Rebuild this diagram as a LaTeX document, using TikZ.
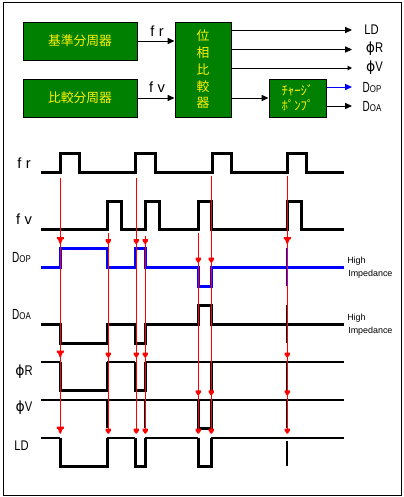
\documentclass[tikz,border=0pt]{standalone}
\usepackage{fontspec}
\setmainfont{Liberation Sans}
\newfontfamily\jpfont{Noto Sans CJK JP}
\newfontfamily\phifont{DejaVu Sans}
\newfontfamily\spacedfont[LetterSpace=30]{Liberation Sans}
\newfontfamily\narrowfont[FakeStretch=0.8]{Liberation Sans}
\newfontfamily\vnarrowfont[FakeStretch=0.68]{Liberation Sans}
\usetikzlibrary{arrows.meta}
\newcommand{\redtipbig}[2]{\fill[tipred] (#1-3.5,#2-7) -- (#1+3.5,#2-7) -- (#1+3.5,#2-5) -- (#1+2.2,#2-4.5) -- (#1+0.5,#2) -- (#1-0.5,#2) -- (#1-2.2,#2-4.5) -- (#1-3.5,#2-5) -- cycle;}
\newcommand{\redtipsmall}[2]{\fill[tipred] (#1-2.6,#2-5) -- (#1+2.6,#2-5) -- (#1+2.6,#2-3) -- (#1+0.5,#2) -- (#1-0.5,#2) -- (#1-2.6,#2-3) -- cycle;}
\definecolor{blockgreen}{RGB}{0,128,0}
\definecolor{sigblue}{RGB}{0,0,255}
\tikzset{
  block/.style={draw=black,line width=0.75pt,fill=blockgreen,anchor=north west,inner sep=0pt,text=yellow,align=center,font=\jpfont\fontsize{9.6pt}{12pt}\selectfont},
  conn/.style={line width=0.75pt,draw=black,-{Triangle[length=5.2pt,width=4.6pt]}},
  connsmall/.style={line width=0.75pt,draw=black,-{Triangle[length=3.2pt,width=3.2pt]}},
  sig/.style={line width=2.25pt,draw=black,line cap=butt,line join=miter},
  sigthin/.style={line width=1.6pt,draw=black,line cap=butt,line join=miter},
  bluesig/.style={sig,draw=sigblue},
  redline/.style={line width=0.75pt,draw=red},
  label/.style={inner sep=0pt,anchor=center,text=black},
  small/.style={inner sep=0pt,anchor=west,text=black,font=\fontsize{6.7pt}{7pt}\selectfont},
  tipred/.style={fill=red,draw=none}
}
\newcommand{\dsub}[1]{{\vnarrowfont\fontsize{11pt}{11pt}\selectfont D}{\narrowfont\fontsize{7.4pt}{8pt}\selectfont #1}}
\newcommand{\phisig}[1]{{\phifont\fontsize{10.5pt}{11pt}\selectfont ϕ}{\narrowfont\fontsize{10.5pt}{11pt}\selectfont #1}}
\begin{document}
\begin{tikzpicture}[x=0.75pt,y=-0.75pt]
\useasboundingbox (0,0) rectangle (404,497);
\fill[white] (0,0) rectangle (404,497);
\draw[line width=0.75pt] (3.5,2.5) rectangle (401.5,495);
% blocks
\node[block,minimum width=85.5pt,minimum height=28.5pt] (base) at (22.5,21.5) {基準分周器};
\node[block,minimum width=85.5pt,minimum height=28.5pt] (cmp) at (22.5,78.5) {比較分周器};
\node[block,minimum width=42pt,minimum height=71.25pt,font=\jpfont\fontsize{9.6pt}{12.6pt}\selectfont] (det) at (174.5,21.5) {位\\相\\比\\較\\器};
\node[block,minimum width=42.75pt,minimum height=28.5pt,font=\jpfont\fontsize{9.6pt}{11.25pt}\selectfont] (pump) at (268.5,78.5) {ﾁｬｰｼﾞ\\ﾎﾟﾝﾌﾟ};
% output ends
\coordinate (ldend) at (352,30);
\coordinate (prend) at (352,49.5);
\coordinate (pvend) at (352,68);
\coordinate (dopend) at (352,87);
\coordinate (doaend) at (352,106);
\draw[conn] (base.east) -- (base.east -| det.west);
\draw[conn] (cmp.east) -- (cmp.east -| det.west);
\draw[conn] (det.east |- pump.west) -- (pump.west);
\draw[conn] (det.east |- ldend) -- (ldend);
\draw[conn] (det.east |- prend) -- (prend);
\draw[connsmall] (det.east |- pvend) -- (pvend);
\draw[conn,draw=sigblue] (pump.east |- dopend) -- (dopend);
\draw[conn] (pump.east |- doaend) -- (doaend);
% block labels
\node[label,font=\spacedfont\fontsize{11pt}{11pt}\selectfont] (lfr) at (157,31) {fr};
\node[label,font=\spacedfont\fontsize{11pt}{11pt}\selectfont] (lfv) at (157,87) {fv};
\node[label,font=\narrowfont\fontsize{10.5pt}{11pt}\selectfont] (lld) at (371.5,30) {LD};
\node[label] (lpr) at (374.5,49) {\phisig{R}};
\node[label] (lpv) at (374.5,68) {\phisig{V}};
\node[label] (ldop) at (372,87) {\dsub{OP}};
\node[label] (ldoa) at (372,106) {\dsub{OA}};
% waveform labels
\node[label,font=\spacedfont\fontsize{11pt}{11pt}\selectfont] (wfr) at (24,163) {fr};
\node[label,font=\spacedfont\fontsize{11pt}{11pt}\selectfont] (wfv) at (24,219) {fv};
\node[label] (wdop) at (21.5,257) {\dsub{OP}};
\node[label] (wdoa) at (21.5,314) {\dsub{OA}};
\node[label] (wpr) at (24,372) {\phisig{R}};
\node[label] (wpv) at (24,408) {\phisig{V}};
\node[label,font=\narrowfont\fontsize{10.5pt}{11pt}\selectfont] (wld) at (21.5,446) {LD};
\node[small] (hi1) at (347,260.7) {High};
\node[small] (im1) at (348,274) {Impedance};
\node[small] (hi2) at (347,317.7) {High};
\node[small] (im2) at (348,330.7) {Impedance};
% waveforms
\draw[sig] (41,172.3) -| (60,153) -| (79,172.3) -| (135,153) -| (155,172.3) -| (212,153) -| (231,172.3) -| (287,153) -| (306,172.3) -- (344,172.3);
\draw[sig] (41,229.3) -| (107,201) -| (121,229.3) -| (145,201) -| (159,229.3) -| (198,201) -| (211,229.3) -| (287,201) -| (301,229.3) -- (344,229.3);
\draw[bluesig] (41,267.3) -| (60,248) -| (107,267.3) -| (135,248) -| (145,267.3) -| (198,286) -| (211,267.3) -- (344,267.3);
\draw[sigthin,draw=sigblue] (286.7,248) -- (286.7,286);
\draw[sig] (41,324.3) -| (60,343.3) -| (107,324.3) -| (135,343.3) -| (145,324.3) -| (198,305) -| (211,324.3) -- (344,324.3);
\draw[sigthin] (286.7,305) -- (286.7,342.7);
\draw[sigthin] (41,362) -- (60,362);
\draw[sig] (60,362) |- (107,390) -- (107,362);
\draw[sigthin] (107,362) -- (135,362);
\draw[sig] (135,362) |- (145,390) -- (145,362);
\draw[sigthin] (145,362) -- (344,362);
\draw[sig] (211,362) -- (211,391);
\draw[sigthin] (286.7,362) -- (286.7,391);
\draw[sigthin] (41,400) -- (344,400);
\draw[sig] (107,400) -- (107,428);
\draw[sigthin] (145,400) -- (145,428);
\draw[sig] (198,400) |- (211,428.3) -- (211,400);
\draw[sigthin] (286.7,400) -- (286.7,428);
\draw[sigthin] (41,437.7) -- (60,437.7);
\draw[sig] (60,437.7) |- (107,466) -- (107,437.7);
\draw[sigthin] (107,437.7) -- (135,437.7);
\draw[sig] (135,437.7) |- (145,466) -- (145,437.7);
\draw[sigthin] (145,437.7) -- (198,437.7);
\draw[sig] (198,437.7) |- (211,466) -- (211,437.7);
\draw[sigthin] (211,437.7) -- (344,437.7);
\draw[sigthin] (286.7,441) -- (286.7,466);
% red timing lines
\foreach \xx/\yy in {60.3/178,108.3/233,136.3/178,145.3/236,198.3/233,211.3/176,287.3/176}
  \draw[redline] (\xx,\yy) -- (\xx,433);
\redtipbig{60.3}{244}
\redtipsmall{108.3}{244}
\redtipsmall{136.3}{244}
\redtipsmall{145.3}{244}
\redtipsmall{198.3}{262.7}
\redtipsmall{211.3}{262.7}
\redtipbig{287.3}{244}
\redtipbig{60.3}{357.5}
\redtipsmall{108.3}{357.5}
\redtipsmall{136.3}{357.5}
\redtipsmall{145.3}{357.5}
\redtipsmall{287.3}{357.5}
\redtipsmall{198.3}{395.3}
\redtipsmall{211.3}{395.3}
\redtipsmall{287.3}{395.3}
\redtipbig{60.3}{433.7}
\redtipsmall{108.3}{433.7}
\redtipsmall{136.3}{433.7}
\redtipsmall{145.3}{433.7}
\redtipsmall{198.3}{433.7}
\redtipsmall{211.3}{433.7}
\redtipsmall{287.3}{433.7}
\end{tikzpicture}
\end{document}
